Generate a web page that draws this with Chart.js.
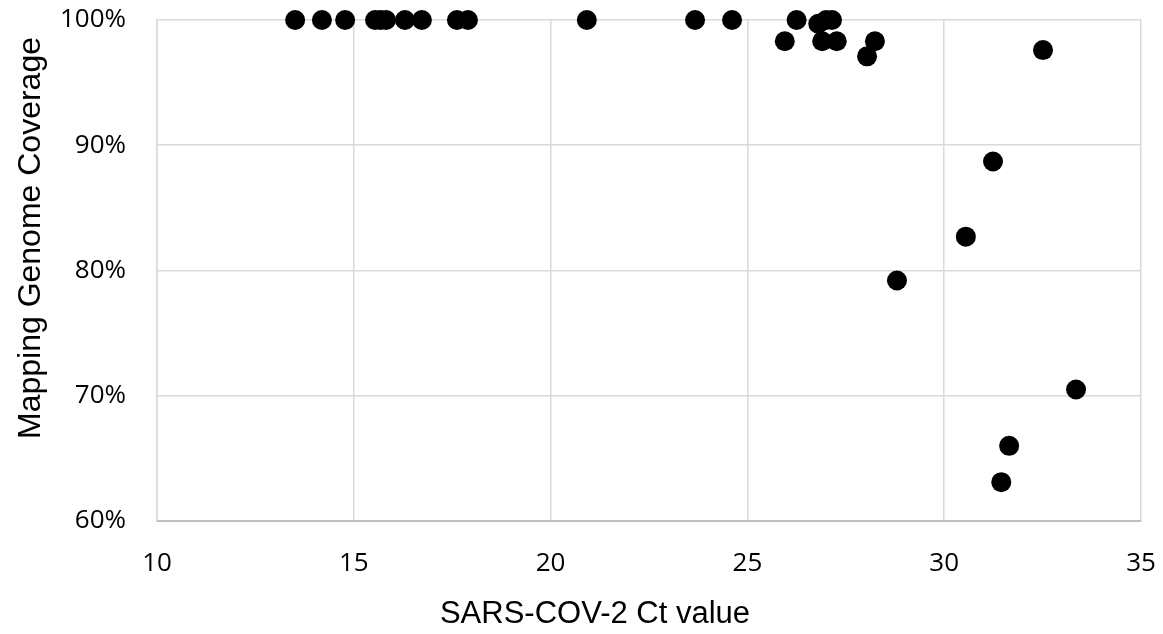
<!DOCTYPE html>
<html>
<head>
<meta charset="utf-8">
<script src="https://cdn.jsdelivr.net/npm/chart.js@4"></script>
<style>
  html, body { margin: 0; padding: 0; background: #fff; }
  #wrap { width: 1163px; height: 634px; }
</style>
</head>
<body>
<div id="wrap"><canvas id="chart" width="1163" height="634"></canvas></div>
<script>
// Ct value vs mapping genome coverage (fraction)
const ctValues = [
  13.51, 14.19, 14.78, 15.54, 15.68, 15.82, 16.30, 16.73, 17.62, 17.90,
  20.92, 23.67, 24.61, 26.25, 27.00, 27.15,
  26.80, 25.95, 26.90, 27.27, 28.24, 28.04,
  32.51, 31.24, 30.55, 28.80, 33.35, 31.65, 31.45
];
const coverage = [
  1.000, 1.000, 1.000, 1.000, 1.000, 1.000, 1.000, 1.000, 1.000, 1.000,
  1.000, 1.000, 1.000, 1.000, 1.000, 1.000,
  0.997, 0.983, 0.983, 0.983, 0.983, 0.971,
  0.976, 0.887, 0.827, 0.792, 0.705, 0.660, 0.631
];
const xTicks = [10, 15, 20, 25, 30, 35];
const yTicks = [0.6, 0.7, 0.8, 0.9, 1.0];
const xTitle = 'SARS-COV-2 Ct value';
const yTitle = 'Mapping Genome Coverage';

const points = ctValues.map((x, i) => ({ x: x, y: coverage[i] }));

const tickFont = { family: "'Open Sans', sans-serif", size: 26 };
const titleFamily = "'Liberation Sans', Arial, sans-serif";

// axis titles drawn by hand: Excel places them off the plot centre
const titlesPlugin = {
  id: 'axisTitles',
  afterDraw(chart) {
    const ctx = chart.ctx;
    ctx.save();
    ctx.fillStyle = '#000';
    ctx.textAlign = 'center';
    ctx.font = '31px ' + titleFamily;
    ctx.textBaseline = 'alphabetic';
    ctx.fillText(xTitle, 595, 623);

    ctx.translate(31, 238);
    ctx.rotate(-Math.PI / 2);
    ctx.font = '32px ' + titleFamily;
    ctx.textBaseline = 'middle';
    ctx.fillText(yTitle, 0, 0);
    ctx.restore();
  }
};

new Chart(document.getElementById('chart').getContext('2d'), {
  type: 'scatter',
  data: {
    datasets: [{
      data: points,
      backgroundColor: '#000',
      borderWidth: 0,
      pointRadius: 10,
      pointHoverRadius: 10,
      clip: false
    }]
  },
  options: {
    responsive: false,
    animation: false,
    layout: { padding: { top: 20, right: 22, left: 0, bottom: 0 } },
    plugins: { legend: { display: false }, tooltip: { enabled: false } },
    scales: {
      x: {
        type: 'linear',
        min: xTicks[0],
        max: xTicks[xTicks.length - 1],
        afterBuildTicks: s => { s.ticks = xTicks.map(v => ({ value: v })); },
        afterFit: s => { s.height = 113; s.paddingLeft = 0; s.paddingRight = 0; },
        grid: { color: '#d9d9d9', lineWidth: 1.5, drawTicks: false },
        border: { color: '#bfbfbf', width: 2 },
        ticks: { color: '#000', font: tickFont, padding: 27, maxRotation: 0 }
      },
      y: {
        type: 'linear',
        min: yTicks[0],
        max: yTicks[yTicks.length - 1],
        afterBuildTicks: s => { s.ticks = yTicks.map(v => ({ value: v })); },
        afterFit: s => { s.width = 157; s.paddingTop = 0; s.paddingBottom = 0; },
        grid: { color: '#d9d9d9', lineWidth: 1.5, drawTicks: false },
        border: { color: '#d9d9d9', width: 1.5 },
        ticks: {
          color: '#000',
          font: tickFont,
          padding: 31,
          callback: v => Math.round(v * 100) + '%'
        }
      }
    }
  },
  plugins: [titlesPlugin]
});
</script>
</body>
</html>
